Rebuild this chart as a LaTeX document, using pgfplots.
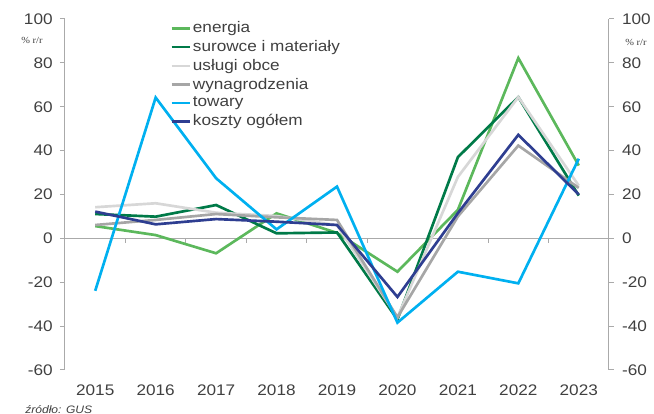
\documentclass[border=0pt]{standalone}
\usepackage{fontspec}
\setmainfont{Liberation Sans}[FakeStretch=1.12]
\newfontfamily\smallserif{Liberation Serif}[FakeStretch=1.12]
\usepackage{pgfplots}
\pgfplotsset{compat=1.18}

\definecolor{energia}{RGB}{92,184,92}
\definecolor{surowce}{RGB}{0,122,72}
\definecolor{uslugi}{RGB}{215,215,215}
\definecolor{wynagr}{RGB}{166,166,166}
\definecolor{towary}{RGB}{0,176,240}
\definecolor{koszty}{RGB}{46,62,145}
\definecolor{axisgray}{RGB}{170,170,170}
\definecolor{labelgray}{RGB}{64,64,64}

\pgfplotsset{
  common/.style={
    scale only axis, width=408pt, height=263.25pt,
    at={(0,0)}, anchor=south west,
    xmin=-0.5, xmax=8.5, ymin=-60, ymax=100,
    ytick={-60,-40,...,100},
    tick align=outside,
    major tick length=3.75pt,
    ytick style={draw=axisgray, line width=0.75pt},
    y axis line style={draw=axisgray, line width=0.75pt},
    /pgf/number format/assume math mode=true,
    ticklabel style={font=\fontsize{11.5}{12}\selectfont, text=labelgray},
  },
}

\begin{document}
\begin{tikzpicture}
\begin{axis}[
  common,
  axis y line*=left,
  axis x line*=bottom,
  x axis line style={draw=none},
  xtick style={draw=none},
  xtick={0,...,8},
  xticklabels={2015,2016,2017,2018,2019,2020,2021,2022,2023},
  xticklabel style={yshift=-4pt},
  yticklabel style={xshift=-2pt},
  legend cell align=left,
  legend style={at={(0.193,0.997)}, anchor=north west, draw=none, fill=none,
    font=\fontsize{11.5}{12}\selectfont, text=labelgray,
    row sep=2.3pt, inner sep=0pt,
    nodes={inner sep=1pt}},
  legend image code/.code={\draw[#1, line width=2pt] (0pt,0pt) -- (14pt,0pt);},
  every axis plot/.append style={line width=2pt},
  clip=false,
]
\draw[axisgray, line width=0.75pt] (axis cs:-0.5,0) -- (axis cs:8.5,0);
\pgfplotsinvokeforeach{0.5,1.5,2.5,3.5,4.5,5.5,6.5,7.5}{
  \draw[axisgray, line width=0.75pt] (axis cs:#1,0) -- ++(0pt,-3.75pt);
}

\addplot[energia] coordinates {(0,5.6) (1,1.5) (2,-6.8) (3,11.4) (4,2.5) (5,-15.2) (6,13) (7,82.2) (8,33.2)};
\addlegendentry{energia}
\addplot[surowce] coordinates {(0,11.1) (1,9.9) (2,15.2) (3,2.3) (4,2.7) (5,-37) (6,37) (7,64.4) (8,19.5)};
\addlegendentry{surowce i materiały}
\addplot[uslugi] coordinates {(0,14.2) (1,16) (2,11.7) (3,10.2) (4,6) (5,-36) (6,28) (7,64.4) (8,24)};
\addlegendentry{usługi obce}
\addplot[wynagr] coordinates {(0,6.1) (1,8.4) (2,11.1) (3,9.6) (4,8.4) (5,-36) (6,10) (7,42.3) (8,23)};
\addlegendentry{wynagrodzenia}
\addplot[towary] coordinates {(0,-23.9) (1,64.2) (2,27.4) (3,4.1) (4,23.6) (5,-38.4) (6,-15.2) (7,-20.5) (8,36.3)};
\addlegendentry{towary}
\addplot[koszty] coordinates {(0,12.2) (1,6.4) (2,8.8) (3,7.6) (4,6.1) (5,-26.7) (6,11.5) (7,47.2) (8,20)};
\addlegendentry{koszty ogółem}
\end{axis}

\begin{axis}[
  common,
  axis y line*=right,
  axis x line=none,
  yticklabel style={xshift=2.5pt},
]
\end{axis}

\node[text=labelgray, font=\smallserif\fontsize{7}{8}\selectfont] at (-24.75pt,247.5pt) {\% r/r};
\node[text=labelgray, font=\smallserif\fontsize{7}{8}\selectfont] at (428.25pt,246pt) {\% r/r};
\node[anchor=base west, inner sep=0pt, text=labelgray, font=\itshape\fontsize{8.1}{9}\selectfont] at (-30pt,-32.6pt) {źródło: GUS};

\pgfresetboundingbox
\path[use as bounding box] (-48.75pt,-33pt) rectangle (441.75pt,277.5pt);
\end{tikzpicture}
\end{document}
